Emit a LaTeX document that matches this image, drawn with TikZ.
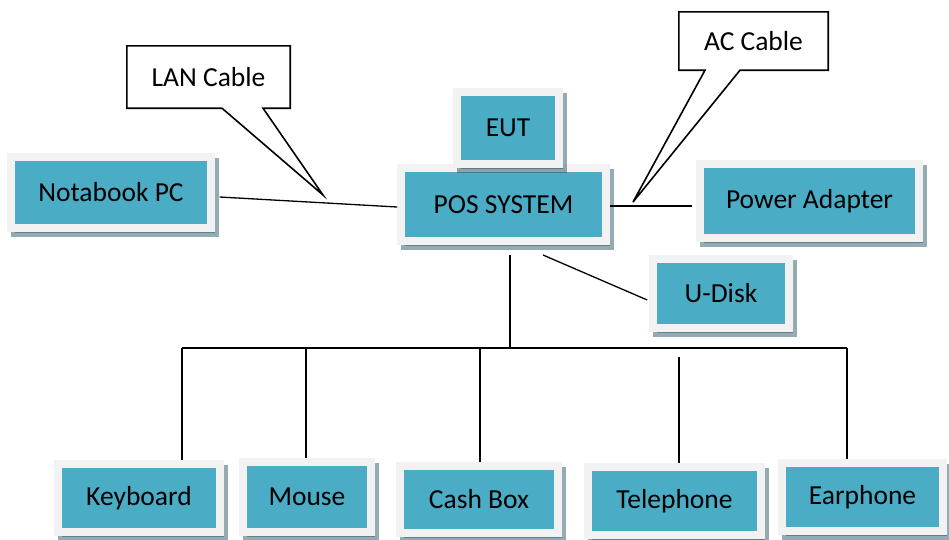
\documentclass[tikz,border=0pt]{standalone}
\usepackage{fontspec}
\setmainfont{Carlito}
\usetikzlibrary{shadows,calc}

\definecolor{boxfill}{HTML}{4BACC6}
\definecolor{boxframe}{HTML}{F2F2F2}
\definecolor{boxshade}{HTML}{2B5769}

\newcommand\lbl{\fontsize{27.5}{31}\selectfont}

\tikzset{
  unit/.style={rectangle, fill=boxfill, draw=boxframe, line width=7.5pt,
    inner sep=0pt, font=\lbl, text=black,
    general shadow={draw=boxshade, fill=boxshade, opacity=0.5,
      line width=7.5pt, shadow xshift=4pt, shadow yshift=-5pt}},
  wire/.style={draw=black, line width=1.3pt},
  tag/.style={rectangle, inner sep=0pt, font=\lbl, text=black},
  tagline/.style={draw=black, line width=1.6pt, line join=miter},
}

\begin{document}
\begin{tikzpicture}[x=1pt, y=-1pt]
\useasboundingbox (0,0) rectangle (949,539);

% main unit and the devices attached to it
\node[unit, minimum width=205pt, minimum height=73pt] (pos) at (503.5,204.5) {POS SYSTEM};
\node[unit, minimum width=102pt, minimum height=72pt] (eut) at (508,128) {EUT};
\node[unit, minimum width=200pt, minimum height=71pt] (nb)  at (111,192.5) {Notabook PC};
\node[unit, minimum width=219pt, minimum height=74pt] (pa)  at (809.5,201) {Power Adapter};
\node[unit, minimum width=136pt, minimum height=69pt] (ud)  at (721,293.5) {U-Disk};

\node[unit, minimum width=162pt, minimum height=68pt] (kb)  at (139,498) {Keyboard};
\node[unit, minimum width=128pt, minimum height=70pt] (ms)  at (307,497) {Mouse};
\node[unit, minimum width=158pt, minimum height=67pt] (cb)  at (479,499.5) {Cash Box};
\node[unit, minimum width=173pt, minimum height=68pt] (tel) at (674.5,501) {Telephone};
\node[unit, minimum width=161pt, minimum height=68pt] (ear) at (862.5,497) {Earphone};

% cable callouts
\node[tag, minimum width=163pt, minimum height=62pt] (lan) at (208.5,77) {LAN Cable};
\coordinate (lantip) at (323,195);
\draw[tagline] (lan.north west) -- (lan.north east) -- (lan.south east)
  -- ([xshift=54.5pt]lan.south) -- (lantip) -- ([xshift=13.5pt]lan.south)
  -- (lan.south west) -- cycle;

\node[tag, minimum width=149pt, minimum height=58pt] (ac) at (753.5,41) {AC Cable};
\coordinate (actip) at (633,202);
\draw[tagline] (ac.north west) -- (ac.north east) -- (ac.south east)
  -- ([xshift=-13.5pt]ac.south) -- (actip) -- ([xshift=-48.5pt]ac.south)
  -- (ac.south west) -- cycle;

% connectors
\draw[wire] ([xshift=5pt,yshift=-4.5pt]nb.east) -- ([yshift=-2.5pt]pos.west);
\draw[wire] ([yshift=-1.5pt]pos.east) -- ([xshift=-4pt,yshift=-5pt]pa.west);
\coordinate (usbstart) at (543,255);
\draw[wire] (usbstart) -- ([xshift=-2pt,yshift=-6.5pt]ud.west);

% bus to the peripherals
\coordinate (trunktop) at (510,255);
\coordinate (busL) at (182,348);
\coordinate (busR) at (847,348);
\coordinate (msdrop) at (306,348);
\coordinate (cbdrop) at (480,348);
\coordinate (teltop) at (679,357);
\draw[wire] (trunktop) -- (trunktop |- busL);
\draw[wire] (busL) -- (busR);
\draw[wire] (busL) -- (busL |- kb.north);
\draw[wire] (msdrop) -- (msdrop |- ms.north);
\draw[wire] (cbdrop) -- (cbdrop |- cb.north);
\draw[wire] (teltop) -- (teltop |- tel.north);
\draw[wire] (busR) -- (busR |- ear.north);
\end{tikzpicture}
\end{document}
